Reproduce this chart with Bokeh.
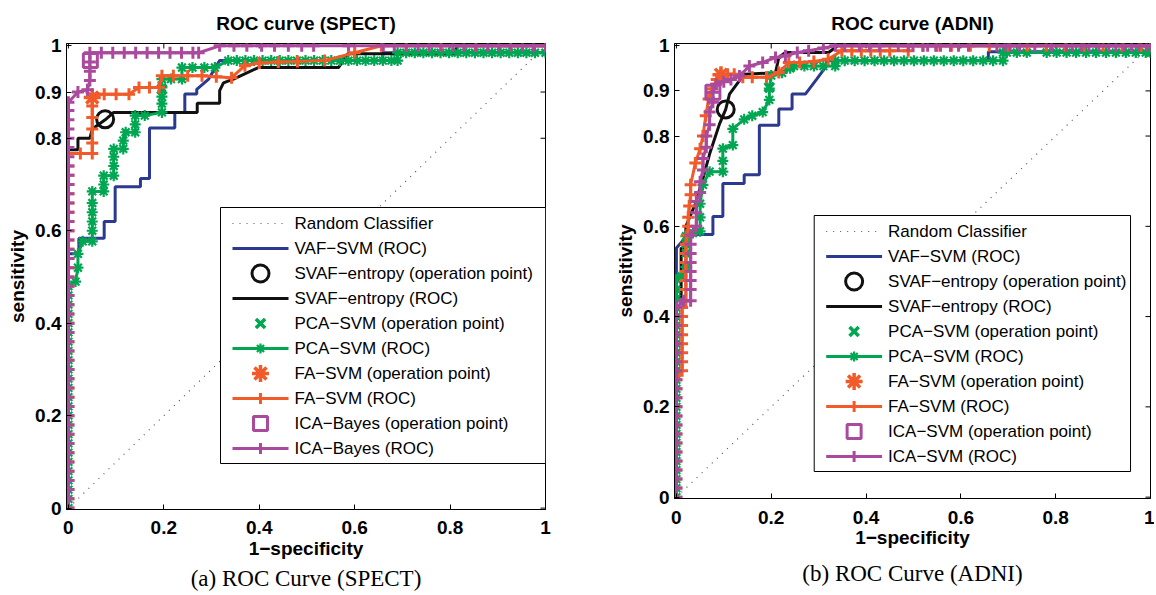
from bokeh.plotting import figure
from bokeh.models import Range1d, FixedTicker, Label, Title, NumeralTickFormatter
from bokeh.embed import file_html
from bokeh.resources import INLINE
from bokeh.core.templates import get_env

# ---------------- data ----------------
x_ticks = [0, 0.2, 0.4, 0.6, 0.8, 1]
y_ticks = [0, 0.2, 0.4, 0.6, 0.8, 0.9, 1]
random_x = [0, 1]
random_y = [0, 1]

# ---- (a) SPECT ----
spect_vaf = [(0, 0), (0, 0.55), (0.022, 0.55), (0.022, 0.584), (0.075, 0.584), (0.075, 0.62),
             (0.098, 0.62), (0.098, 0.695), (0.151, 0.695), (0.151, 0.713), (0.17, 0.713),
             (0.17, 0.822), (0.223, 0.822), (0.223, 0.856), (0.244, 0.856), (0.244, 0.896),
             (0.269, 0.896), (0.269, 0.906), (0.294, 0.928), (0.317, 0.968), (0.659, 0.968),
             (0.659, 0.985), (1, 0.985), (1, 1)]
spect_svaf = [(0, 0), (0, 0.775), (0.02, 0.775), (0.02, 0.80), (0.045, 0.80), (0.05, 0.82),
              (0.077, 0.84), (0.095, 0.856), (0.27, 0.856), (0.27, 0.876), (0.317, 0.876),
              (0.317, 0.903), (0.325, 0.92), (0.346, 0.928), (0.398, 0.953), (0.566, 0.953),
              (0.586, 0.983), (0.81, 0.983), (0.815, 1), (1, 1)]
spect_pca_y0 = [0.00, 0.02, 0.04, 0.06, 0.08, 0.10, 0.12, 0.14, 0.16, 0.18, 0.20, 0.22, 0.24,
                0.26, 0.28, 0.30, 0.32, 0.34, 0.36, 0.38, 0.40, 0.42, 0.44, 0.46, 0.48]
spect_pca = [(0.015, 0.49), (0.02, 0.52), (0.02, 0.55), (0.03, 0.577), (0.05, 0.577),
             (0.05, 0.60), (0.05, 0.62), (0.05, 0.64), (0.05, 0.66), (0.05, 0.685),
             (0.074, 0.685), (0.074, 0.70), (0.074, 0.719), (0.095, 0.719), (0.095, 0.74),
             (0.095, 0.76), (0.095, 0.777), (0.115, 0.777), (0.115, 0.795), (0.12, 0.813),
             (0.14, 0.813), (0.14, 0.83), (0.14, 0.849), (0.16, 0.849), (0.196, 0.856),
             (0.196, 0.875), (0.196, 0.89), (0.196, 0.91), (0.196, 0.928), (0.215, 0.928),
             (0.238, 0.928), (0.238, 0.953), (0.26, 0.953), (0.285, 0.953), (0.307, 0.953),
             (0.335, 0.968), (0.353, 0.968), (0.371, 0.968), (0.389, 0.968), (0.407, 0.968),
             (0.425, 0.968), (0.443, 0.968), (0.461, 0.968), (0.479, 0.968), (0.497, 0.968),
             (0.515, 0.968), (0.533, 0.968), (0.551, 0.968), (0.569, 0.968), (0.587, 0.968),
             (0.605, 0.968), (0.623, 0.968), (0.641, 0.968), (0.659, 0.968), (0.677, 0.968),
             (0.69, 0.968), (0.69, 0.985), (0.708, 0.985), (0.726, 0.985), (0.744, 0.985),
             (0.762, 0.985), (0.78, 0.985), (0.798, 0.985), (0.816, 0.985), (0.834, 0.985),
             (0.852, 0.985), (0.87, 0.985), (0.888, 0.985), (0.906, 0.985), (0.924, 0.985),
             (0.942, 0.985), (0.96, 0.985), (0.978, 0.985), (1.0, 0.985)]
spect_fa_y0 = [0.00, 0.02, 0.04, 0.06, 0.08, 0.10, 0.12, 0.14, 0.16, 0.18, 0.20, 0.22, 0.24,
               0.26, 0.28, 0.30, 0.32, 0.34, 0.36, 0.38, 0.40, 0.42, 0.44, 0.46, 0.48, 0.50,
               0.52, 0.54, 0.56, 0.58, 0.60, 0.62, 0.64, 0.66, 0.68, 0.70, 0.72, 0.74, 0.767]
spect_fa = [(0.025, 0.767), (0.05, 0.767), (0.05, 0.79), (0.05, 0.82), (0.05, 0.845),
            (0.05, 0.87), (0.05, 0.895), (0.075, 0.895), (0.10, 0.895), (0.127, 0.895),
            (0.148, 0.91), (0.17, 0.91), (0.19, 0.91), (0.196, 0.935), (0.22, 0.935),
            (0.25, 0.935), (0.28, 0.935), (0.31, 0.933), (0.342, 0.931), (0.37, 0.957),
            (0.40, 0.963), (0.44, 0.965), (0.48, 0.966), (0.537, 0.968), (0.60, 0.985),
            (0.656, 1.0), (0.708, 1.0), (0.781, 1.0), (0.854, 1.0), (0.927, 1.0), (1.0, 1.0)]
spect_ica_y0 = [0.00, 0.02, 0.04, 0.06, 0.08, 0.10, 0.12, 0.14, 0.16, 0.18, 0.20, 0.22, 0.24,
                0.26, 0.28, 0.30, 0.32, 0.34, 0.36, 0.38, 0.40, 0.42, 0.44, 0.46, 0.48, 0.50,
                0.52, 0.54, 0.56, 0.58, 0.60, 0.62, 0.64, 0.66, 0.68, 0.70, 0.72, 0.74, 0.76,
                0.78, 0.80, 0.82, 0.84, 0.86, 0.878]
spect_ica = [(0.02, 0.90), (0.04, 0.905), (0.045, 0.925), (0.045, 0.945), (0.045, 0.965),
             (0.045, 0.985), (0.069, 0.985), (0.093, 0.985), (0.117, 0.985), (0.141, 0.985),
             (0.165, 0.985), (0.189, 0.985), (0.213, 0.985), (0.237, 0.985), (0.261, 0.985),
             (0.273, 0.985), (0.317, 1.0), (0.347, 1.0), (0.374, 1.0), (0.405, 1.0),
             (0.432, 1.0), (0.461, 1.0), (0.489, 1.0), (0.514, 1.0), (0.587, 1.0), (0.66, 1.0),
             (0.683, 1.0), (0.708, 1.0), (0.733, 1.0), (0.756, 1.0), (0.781, 1.0), (0.806, 1.0),
             (0.829, 1.0), (0.854, 1.0), (0.879, 1.0), (0.902, 1.0), (0.927, 1.0), (0.952, 1.0),
             (0.975, 1.0), (1.0, 1.0)]
spect_ops = {"svaf": (0.077, 0.841), "pca": (0.196, 0.906), "fa": (0.05, 0.888), "ica": (0.046, 0.968)}

# ---- (b) ADNI ----
adni_vaf = [(0, 0), (0, 0.552), (0.025, 0.582), (0.077, 0.582), (0.077, 0.622), (0.098, 0.622),
            (0.098, 0.695), (0.143, 0.695), (0.143, 0.714), (0.175, 0.714), (0.175, 0.824),
            (0.216, 0.824), (0.216, 0.86), (0.244, 0.86), (0.244, 0.893), (0.272, 0.893),
            (0.296, 0.926), (0.317, 0.956), (0.317, 0.967), (0.658, 0.967), (0.658, 0.987),
            (1, 0.987), (1, 1)]
adni_svaf = [(0, 0), (0, 0.44), (0.01, 0.44), (0.01, 0.552), (0.02, 0.552), (0.02, 0.60),
             (0.04, 0.65), (0.056, 0.706), (0.07, 0.76), (0.091, 0.827), (0.104, 0.859),
             (0.112, 0.893), (0.143, 0.937), (0.209, 0.94), (0.216, 0.974), (0.23, 0.985),
             (0.321, 0.985), (0.34, 1.0), (1, 1)]
adni_pca_y0 = [0.00, 0.02, 0.04, 0.06, 0.08, 0.10, 0.12, 0.14, 0.16, 0.18, 0.20, 0.22, 0.24,
               0.26, 0.28, 0.30, 0.32, 0.34, 0.36, 0.38, 0.40, 0.42, 0.44, 0.46, 0.483]
adni_pca = [(0.01, 0.49), (0.02, 0.51), (0.02, 0.54), (0.02, 0.56), (0.02, 0.578),
            (0.035, 0.585), (0.05, 0.589), (0.05, 0.62), (0.05, 0.65), (0.056, 0.692),
            (0.07, 0.721), (0.098, 0.721), (0.098, 0.745), (0.098, 0.772), (0.119, 0.78),
            (0.119, 0.816), (0.143, 0.837), (0.16, 0.845), (0.182, 0.853), (0.196, 0.88),
            (0.196, 0.905), (0.2, 0.934), (0.223, 0.94), (0.24, 0.95), (0.248, 0.955),
            (0.27, 0.955), (0.29, 0.955), (0.31, 0.955), (0.335, 0.955), (0.335, 0.967),
            (0.355, 0.967), (0.376, 0.967), (0.397, 0.967), (0.418, 0.967), (0.438, 0.967),
            (0.459, 0.967), (0.48, 0.967), (0.501, 0.967), (0.522, 0.967), (0.543, 0.967),
            (0.564, 0.967), (0.585, 0.967), (0.605, 0.967), (0.626, 0.967), (0.647, 0.967),
            (0.668, 0.967), (0.689, 0.967), (0.689, 0.985), (0.697, 0.985), (0.718, 0.985),
            (0.739, 0.985), (0.781, 0.985), (0.802, 0.985), (0.823, 0.985), (0.843, 0.985),
            (0.864, 0.985), (0.885, 0.985), (0.906, 0.985), (0.927, 0.985), (0.948, 0.985),
            (0.969, 0.985), (0.99, 0.985), (1.0, 0.985)]
adni_fa_y0 = [0.00, 0.02, 0.04, 0.06, 0.08, 0.10, 0.12, 0.14, 0.16, 0.18, 0.20, 0.22, 0.24, 0.26]
adni_fa = [(0.012, 0.28), (0.012, 0.30), (0.012, 0.32), (0.012, 0.34), (0.012, 0.36),
           (0.012, 0.38), (0.012, 0.40), (0.012, 0.42), (0.02, 0.435), (0.02, 0.46),
           (0.02, 0.48), (0.02, 0.50), (0.02, 0.52), (0.02, 0.54), (0.02, 0.56), (0.022, 0.58),
           (0.025, 0.60), (0.025, 0.62), (0.027, 0.645), (0.03, 0.67), (0.03, 0.692),
           (0.04, 0.74), (0.05, 0.772), (0.056, 0.80), (0.062, 0.845), (0.068, 0.882),
           (0.075, 0.905), (0.085, 0.925), (0.094, 0.937), (0.108, 0.937), (0.122, 0.937),
           (0.14, 0.93), (0.16, 0.93), (0.19, 0.93), (0.216, 0.941), (0.237, 0.963),
           (0.26, 0.963), (0.29, 0.965), (0.32, 0.97), (0.349, 0.989), (0.37, 0.989),
           (0.39, 0.989), (0.41, 0.989), (0.43, 0.989), (0.45, 0.989), (0.489, 0.989),
           (0.49, 1.0), (0.52, 1.0), (0.55, 1.0), (0.58, 1.0), (0.62, 1.0), (0.66, 1.0),
           (0.70, 1.0), (0.74, 1.0), (0.78, 1.0), (0.82, 1.0), (0.86, 1.0), (0.90, 1.0),
           (0.94, 1.0), (0.98, 1.0), (1.0, 1.0)]
adni_ica_y0 = [0.00, 0.02, 0.04, 0.06, 0.08, 0.10, 0.12, 0.14, 0.16, 0.18, 0.20, 0.22, 0.24,
               0.26, 0.28, 0.30, 0.32, 0.34, 0.36, 0.38, 0.40, 0.42]
adni_ica = [(0.015, 0.435), (0.03, 0.435), (0.03, 0.46), (0.03, 0.48), (0.03, 0.50), (0.03, 0.52),
            (0.03, 0.54), (0.03, 0.56), (0.03, 0.58), (0.042, 0.60), (0.042, 0.63),
            (0.042, 0.655), (0.05, 0.675), (0.05, 0.699), (0.056, 0.725), (0.056, 0.75),
            (0.063, 0.775), (0.063, 0.80), (0.07, 0.825), (0.07, 0.853), (0.077, 0.875),
            (0.077, 0.897), (0.084, 0.915), (0.10, 0.92), (0.115, 0.925), (0.133, 0.933),
            (0.154, 0.955), (0.182, 0.963), (0.209, 0.974), (0.23, 0.978), (0.255, 0.985),
            (0.279, 0.989), (0.31, 0.995), (0.335, 1.0), (0.355, 1.0), (0.386, 1.0),
            (0.407, 1.0), (0.428, 1.0), (0.468, 1.0), (0.489, 1.0), (0.499, 1.0), (0.52, 1.0),
            (0.53, 1.0), (0.547, 1.0), (0.557, 1.0), (0.578, 1.0), (0.595, 1.0), (0.616, 1.0),
            (0.676, 1.0), (0.693, 1.0), (0.704, 1.0), (0.724, 1.0), (0.756, 1.0), (0.791, 1.0),
            (0.823, 1.0), (0.835, 1.0), (0.854, 1.0), (0.87, 1.0), (0.891, 1.0), (0.912, 1.0),
            (0.927, 1.0), (0.944, 1.0), (0.96, 1.0), (0.975, 1.0), (0.992, 1.0), (1.0, 1.0)]
adni_ops = {"svaf": (0.104, 0.859), "pca": (0.196, 0.908), "fa": (0.094, 0.936), "ica": (0.077, 0.897)}

# ---------------- styling ----------------
C_BLUE = "#2b3990"
C_BLACK = "#111111"
C_GREEN = "#00a651"
C_ORANGE = "#f15a29"
C_MAG = "#aa4a9d"
C_RAND = "#555555"
SANS = "Liberation Sans"
SERIF = "Liberation Serif"
M = "\u2212"
X0, X1 = -0.004, 1.0
Y0, Y1 = -0.003, 1.005

# marker styles: (marker, size, line width)
OP_STYLE = {"svaf": ("circle", 17, 3), "pca": ("x", 13, 3.5), "fa": ("asterisk", 17, 3.5),
            "ica": ("square", 14, 3)}
COL = {"vaf": C_BLUE, "svaf": C_BLACK, "pca": C_GREEN, "fa": C_ORANGE, "ica": C_MAG}
ROC_MARK = {"pca": ("asterisk", 11, 2.2), "fa": ("cross", 12, 3), "ica": ("cross", 12, 3)}


def with_x0(y0, pts):
    return [(0, y) for y in y0] + pts


def xs(pts):
    return [p[0] for p in pts]


def ys(pts):
    return [p[1] for p in pts]


def panel(title, caption, curves, ops, ica_name, width, height, mb_left, mb_right, fw, fh,
          box, cap_standoff, x_std, x_lab_std, y_lab_std):
    mb_top = 43
    mb_bottom = height - mb_top - fh
    p = figure(width=width, height=height, output_backend="svg", toolbar_location=None,
               x_range=Range1d(X0, X1), y_range=Range1d(Y0, Y1),
               min_border_left=mb_left, min_border_right=mb_right, min_border_top=mb_top,
               min_border_bottom=mb_bottom, background_fill_color="white",
               border_fill_color="white")
    p.grid.visible = False
    p.outline_line_color = "black"
    p.outline_line_width = 1
    p.title.text = title
    p.title.align = "center"
    p.title.vertical_align = "top"
    p.title.text_font = SANS
    p.title.text_font_size = "19px"
    p.title.text_font_style = "bold"
    p.title.text_color = "black"
    p.title.standoff = 16

    for ax in (p.xaxis[0], p.yaxis[0]):
        ax.major_tick_in = 5
        ax.major_tick_out = 0
        ax.minor_tick_line_color = None
        ax.axis_line_color = "black"
        ax.major_tick_line_color = "black"
        ax.major_label_text_font = SANS
        ax.major_label_text_font_size = "19px"
        ax.major_label_text_font_style = "bold"
        ax.major_label_text_color = "black"
        ax.axis_label_text_font = SANS
        ax.axis_label_text_font_size = "19px"
        ax.axis_label_text_font_style = "bold"
        ax.axis_label_text_color = "black"
        ax.formatter = NumeralTickFormatter(format="0.[0]")
    p.xaxis[0].major_label_standoff = x_std
    p.xaxis[0].axis_label_standoff = x_lab_std
    p.yaxis[0].major_label_standoff = 5
    p.yaxis[0].axis_label_standoff = y_lab_std
    p.xaxis[0].ticker = FixedTicker(ticks=x_ticks)
    p.yaxis[0].ticker = FixedTicker(ticks=y_ticks)
    p.xaxis[0].axis_label = "1" + M + "specificity"
    p.yaxis[0].axis_label = "sensitivity"

    def dx(sx):  # pixels from frame left -> data
        return X0 + sx / fw * (X1 - X0)

    def dy(st):  # pixels from frame top -> data
        return Y1 - st / fh * (Y1 - Y0)

    # inward ticks on the top and right sides of the box (MATLAB style)
    p.segment(x0=x_ticks, y0=[Y1] * len(x_ticks), x1=x_ticks, y1=[dy(5)] * len(x_ticks),
              line_color="black", line_width=1)
    p.segment(x0=[X1] * len(y_ticks), y0=y_ticks, x1=[dx(fw - 5)] * len(y_ticks), y1=y_ticks,
              line_color="black", line_width=1)

    # random classifier (behind the legend box)
    p.line(random_x, random_y, line_color=C_RAND, line_width=1.2, line_dash="1 6")

    # ---- legend box (MATLAB style) ----
    bl, bt, bw, bh = box
    p.quad(left=[dx(bl)], right=[dx(bl + bw)], top=[dy(bt)], bottom=[dy(bt + bh)],
           fill_color="white", line_color="black", line_width=1)
    labels = ["Random Classifier", "VAF" + M + "SVM (ROC)",
              "SVAF" + M + "entropy (operation point)", "SVAF" + M + "entropy (ROC)",
              "PCA" + M + "SVM (operation point)", "PCA" + M + "SVM (ROC)",
              "FA" + M + "SVM (operation point)", "FA" + M + "SVM (ROC)",
              ica_name + " (operation point)", ica_name + " (ROC)"]
    kinds = [("rand", "line"), ("vaf", "line"), ("svaf", "op"), ("svaf", "line"),
             ("pca", "op"), ("pca", "line"), ("fa", "op"), ("fa", "line"),
             ("ica", "op"), ("ica", "line")]
    for i, (lab, (key, kind)) in enumerate(zip(labels, kinds)):
        cy = dy(bt + 16 + 25 * i)
        if kind == "line":
            if key == "rand":
                p.segment(x0=[dx(bl + 12)], y0=[cy], x1=[dx(bl + 68)], y1=[cy],
                          line_color=C_RAND, line_width=1.2, line_dash="1 6")
            else:
                p.segment(x0=[dx(bl + 12)], y0=[cy], x1=[dx(bl + 68)], y1=[cy],
                          line_color=COL[key], line_width=3)
                if key in ROC_MARK:
                    mk, sz, lw = ROC_MARK[key]
                    p.scatter([dx(bl + 40)], [cy], marker=mk, size=sz - 1, line_color=COL[key],
                              line_width=lw)
        else:
            mk, sz, lw = OP_STYLE[key]
            p.scatter([dx(bl + 40)], [cy], marker=mk, size=sz, line_color=COL[key],
                      line_width=lw, fill_alpha=0)
        p.add_layout(Label(x=dx(bl + 74), y=cy, text=lab, text_align="left",
                           text_baseline="middle", text_font=SANS, text_font_size="17px",
                           text_color="black"))

    # ---- curves and operation points (MATLAB plotting order) ----
    p.line(xs(curves["vaf"]), ys(curves["vaf"]), line_color=C_BLUE, line_width=3)
    for key in ("svaf", "pca", "fa", "ica"):
        mk, sz, lw = OP_STYLE[key]
        p.scatter([ops[key][0]], [ops[key][1]], marker=mk, size=sz, line_color=COL[key],
                  line_width=lw, fill_alpha=0)
        pts = curves[key]
        p.line(xs(pts), ys(pts), line_color=COL[key], line_width=3)
        if key in ROC_MARK:
            mk, sz, lw = ROC_MARK[key]
            p.scatter(xs(pts), ys(pts), marker=mk, size=sz, line_color=COL[key], line_width=lw)

    p.add_layout(Title(text=caption, align="center", text_font=SERIF, text_font_size="23px",
                       text_font_style="normal", text_color="black",
                       standoff=cap_standoff), "below")
    return p


spect_curves = {"vaf": spect_vaf, "svaf": spect_svaf, "pca": with_x0(spect_pca_y0, spect_pca),
                "fa": with_x0(spect_fa_y0, spect_fa), "ica": with_x0(spect_ica_y0, spect_ica)}
adni_curves = {"vaf": adni_vaf, "svaf": adni_svaf, "pca": with_x0(adni_pca_y0, adni_pca),
               "fa": with_x0(adni_fa_y0, adni_fa), "ica": with_x0(adni_ica_y0, adni_ica)}

left = panel("ROC curve (SPECT)", "(a) ROC Curve (SPECT)", spect_curves, spect_ops,
             "ICA" + M + "Bayes", 612, 593, 66, 67, 479, 466,
             (154, 164, 325, 256), 4, 11, 1, 4)
right = panel("ROC curve (ADNI)", "(b) ROC Curve (ADNI)", adni_curves, adni_ops,
              "ICA" + M + "SVM", 542, 593, 61, 4, 477, 455,
              (140, 172, 317, 256), 16, 12, 0, 4)

# two independent roots side by side (so the two frames keep their own heights)
page = get_env().from_string(
    "{% extends base %}\n"
    "{% block contents %}<div style=\"display:flex;flex-direction:row;align-items:flex-start\">"
    "{{ super() }}</div>{% endblock %}")
open("out.html", "w").write(file_html([left, right], INLINE, template=page))
